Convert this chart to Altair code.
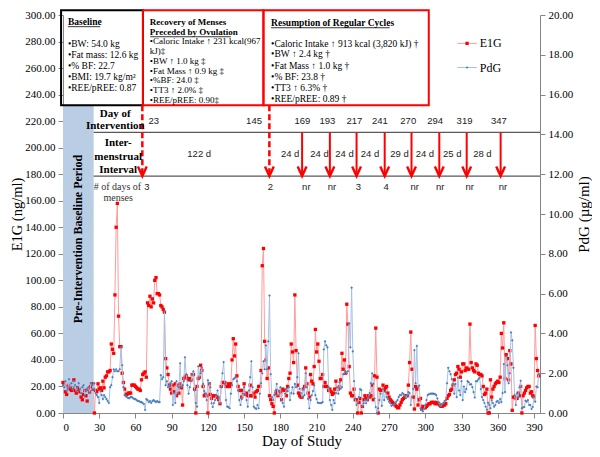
import altair as alt
import pandas as pd

# ---------------- data ----------------
days = list(range(395))

e1g = [
    23, 22, 16, 14, 20, 21, 18, 17, 19, 25,
    17, 15, 19, 18, 16, 12, 10, 14, 17, 13,
    9, 18, 16, 20, 22, 18, 0, 17, 16, 22,
    18, 19, 17, 24, 19, 27, 28, 31, 31, 32,
    52, 48, 45, 89, 140, 158, 73, 50, 50, 30,
    23, 18, 14, 14, 15, 15, 15, 21, 21, 21,
    20, 19, 18, 18, 17, 25, 29, 30, 31, 27,
    83, 81, 88, 80, 86, 83, 100, 102, 90, 90,
    89, 81, 80, 78, 76, 41, 34, 29, 21, 18,
    15, 21, 16, 22, 13, 21, 15, 22, 19, 6,
    26, 27, 28, 26, 25, 26, 25, 29, 29, 18,
    0, 20, 26, 27, 36, 32, 20, 13, 14, 13,
    0, 22, 14, 11, 13, 13, 13, 12, 12, 10,
    7, 20, 23, 23, 23, 20, 20, 22, 20, 22,
    40, 56, 43, 52, 28, 20, 17, 17, 12, 17,
    22, 14, 15, 13, 13, 21, 13, 13, 15, 12,
    16, 17, 20, 20, 32, 111, 124, 54, 40, 26,
    34, 13, 10, 7, 5, 0, 15, 17, 13, 16,
    16, 10, 18, 17, 17, 13, 20, 26, 30, 52,
    46, 38, 89, 47, 21, 15, 13, 12, 12, 18,
    20, 34, 22, 15, 12, 29, 24, 22, 35, 63,
    46, 52, 39, 26, 26, 29, 20, 23, 20, 20,
    17, 18, 16, 14, 15, 18, 24, 18, 18, 20,
    25, 45, 33, 40, 30, 82, 67, 35, 15, 13,
    13, 18, 10, 10, 0, 8, 11, 0, 5, 10,
    13, 11, 10, 13, 12, 13, 21, 10, 28, 64,
    27, 0, 18, 17, 17, 21, 17, 19, 20, 15,
    12, 10, 9, 8, 7, 6, 5, 4, 4, 6,
    8, 10, 11, 12, 13, 13, 21, 38, 61, 33,
    12, 3, 20, 18, 6, 10, 11, 3, 5, 4,
    4, 5, 6, 7, 7, 8, 8, 8, 7, 8,
    7, 7, 6, 5, 5, 6, 6, 7, 11, 13,
    14, 17, 18, 21, 25, 29, 30, 35, 33, 27,
    31, 37, 37, 32, 34, 33, 33, 67, 38, 34,
    32, 31, 37, 36, 30, 29, 29, 28, 20, 14,
    15, 18, 0, 0, 25, 12, 18, 20, 22, 23,
    24, 23, 27, 60, 49, 68, 26, 44, 41, 25,
    47, 37, 2, 12, 12, 11, 11, 15, 13, 20,
    0, 13, 15, 17, 19, 20, 20, 15, 16, 13,
    12, 66, 41, 32, 28,
]

pdg = [
    1.4, 1.3, 1.6, 1.1, 1.2, 1.7, 1.3, 1.5, 1.2, 1.6,
    1.4, 1.1, 1.3, 1.5, 1.2, 1.0, 1.3, 1.4, 0.9, 1.1,
    1.2, 1.3, 1.0, 1.5, 1.4, 1.2, 1.5, 1.0, 0.9, 0.8,
    0.5, 1.1, 0.9, 0.7, 0.9, 0.8, 0.7, 0.6, 0.5, 1.3,
    1.4, 1.8, 2.2, 2.1, 2.2, 2.1, 2.1, 2.2, 3.3, 2.4,
    1.3, 0.9, 0.85, 0.8, 0.75, 0.75, 0.8, 0.8, 0.75, 0.7,
    0.7, 0.65, 0.6, 0.6, 0.55, 0.55, 0.5, 0.45, 0.15, 0.7,
    0.65, 0.55, 0.6, 0.5, 0.6, 0.65, 0.6, 0.55, 0.6, 0.55,
    0.55, 1.9, 1.7, 1.8, 5.1, 1.4, 1.6, 1.3, 1.4, 1.5,
    1.6, 0.4, 1.0, 0.5, 1.6, 1.0, 1.3, 2.5, 1.3, 1.4,
    1.6, 2.8, 1.95, 1.4, 0.97, 1.3, 1.6, 1.95, 2.1, 1.13,
    0.5, 0.32, 2.35, 1.78, 2.0, 2.27, 1.46, 1.1, 0.97, 0.65,
    1.65, 1.5, 1.3, 0.49, 0.3, 0.5, 0.65, 0.9, 1.13, 0.8,
    0.49, 1.3, 2.0, 2.56, 1.46, 0.65, 0.32, 0.3, 0.24, 0.97,
    1.4, 1.7, 1.75, 1.8, 1.6, 1.13, 0.65, 0.4, 0.7, 0.97,
    1.3, 0.9, 0.65, 0.32, 1.13, 1.8, 2.6, 1.3, 0.32, 0.25,
    0.2, 0.4, 0.24, 0.97, 1.5, 2.0, 2.6, 2.2, 3.4, 2.2,
    3.6, 5.9, 1.95, 0.8, 0.65, 0.9, 1.13, 1.46, 0.89, 1.1,
    1.3, 0.65, 0.5, 0.32, 0.97, 1.22, 1.1, 1.3, 0.65, 1.0,
    1.3, 0.97, 1.46, 1.3, 1.8, 3.0, 1.22, 1.0, 0.8, 1.2,
    0.9, 2.0, 1.3, 0.7, 0.24, 0.65, 0.89, 1.1, 1.38, 0.9,
    0.7, 0.52, 0.5, 0.5, 0.5, 0.55, 3.2, 3.6, 3.4, 3.3,
    1.3, 0.65, 0.4, 0.16, 0.65, 0.49, 1.0, 1.3, 0.97, 1.54,
    1.22, 1.3, 1.95, 2.0, 2.1, 2.0, 2.1, 4.5, 3.3, 6.3,
    3.1, 1.6, 0.73, 0.4, 0.49, 0.8, 1.2, 1.15, 0.32, 0.49,
    0.65, 0.49, 0.65, 0.8, 1.0, 1.5, 2.0, 1.46, 0.73, 0.3,
    0.0, 0.24, 0.65, 0.97, 0.36, 1.2, 0.65, 1.05, 0.8, 0.7,
    0.57, 0.49, 0.36, 0.4, 0.4, 0.49, 0.57, 0.65, 0.8, 0.9,
    0.9, 1.0, 0.95, 0.85, 0.75, 0.9, 1.05, 1.0, 0.4, 0.8,
    1.2, 3.16, 1.5, 3.37, 1.3, 1.38, 0.24, 0.16, 0.08, 0.2,
    0.4, 0.65, 0.9, 0.94, 0.97, 0.97, 0.97, 0.97, 0.95, 0.9,
    0.73, 0.55, 0.4, 0.35, 0.45, 0.5, 0.6, 0.65, 1.5, 2.27,
    2.1, 1.95, 1.7, 1.46, 0.97, 1.46, 0.8, 1.78, 1.13, 0.9,
    1.6, 0.65, 1.33, 1.05, 1.2, 1.6, 1.55, 1.43, 1.45, 1.3,
    1.05, 0.78, 1.6, 1.6, 1.7, 1.78, 1.2, 0.8, 0.65, 0.5,
    0.32, 0.16, 0.52, 0.4, 0.24, 0.65, 0.5, 0.32, 0.4, 0.57,
    0.6, 0.5, 0.7, 0.55, 1.0, 2.46, 1.05, 2.84, 2.4, 1.5,
    2.0, 4.05, 3.65, 2.27, 0.9, 0.4, 0.97, 0.8, 1.3, 1.62,
    0.24, 0.28, 0.3, 0.62, 0.57, 0.65, 0.4, 0.4, 0.2, 0.3,
    0.8, 0.57, 1.33, 1.3, 1.97,
]

intervention_days = ["23", "145", "169", "193", "217", "241", "270", "294", "319", "347"]
interval_labels = ["122 d", "24 d", "24 d", "24 d", "24 d", "29 d", "24 d", "25 d", "28 d"]
menses_labels = ["3", "2", "nr", "nr", "3", "4", "nr", "nr", "nr", "nr"]

baseline_lines = ["•BW: 54.0 kg", "•Fat mass: 12.6 kg", "•% BF: 22.7",
                  "•BMI:  19.7 kg/m²", "•REE/pREE: 0.87"]
recovery_lines = ["•Caloric Intake ↑ 231 kcal(967", "kJ)‡", "•BW ↑ 1.0 kg ‡",
                  "•Fat Mass ↑ 0.9 kg ‡", "•%BF: 24.0 ‡", "•TT3  ↑ 2.0% ‡",
                  "•REE/pREE: 0.90‡"]
resumption_lines = ["•Caloric Intake ↑ 913 kcal (3,820 kJ) †", "•BW ↑ 2.4 kg †",
                    "•Fat Mass ↑ 1.0 kg †", "•% BF: 23.8 †", "•TT3 ↑ 6.3% †",
                    "•REE/pREE: 0.89 †"]

# ---------------- layout (annotation positions, in day / E1G units) ----------------
SERIF = "Liberation Serif, Times New Roman, serif"
SANS_N = "Liberation Sans Narrow, Arial Narrow, Liberation Sans, Arial, sans-serif"
RED = "#ff0000"

W, H = 477, 398
xs = alt.Scale(domain=[0, 395], nice=False, zero=False)
ys = alt.Scale(domain=[0, 300], nice=False)
ps = alt.Scale(domain=[0, 20], nice=False)
XT, YT, PT = "Day of Study", "E1G (ng/ml)", "PdG (µg/ml)"

x_axis = alt.Axis(values=list(range(0, 391, 30)), format="d", tickSize=5,
                  labelPadding=3, titleY=32.7, titleBaseline="alphabetic",
                  titleFontSize=15)
yl_axis = alt.Axis(values=list(range(0, 301, 20)), format=".2f", tickSize=5,
                   labelPadding=3, titleX=-42, titleY=H / 2, titleAngle=270,
                   titleBaseline="alphabetic", titleAlign="center", titleFontSize=14.5)
yr_axis = alt.Axis(orient="right", values=list(range(0, 21, 2)), format=".2f",
                   tickSize=5, labelPadding=3, titleX=48, titleY=H / 2,
                   titleAngle=270, titleBaseline="alphabetic", titleAlign="center",
                   titleFontSize=15)


def ax(f):
    return alt.X(f, type="quantitative", scale=xs, axis=x_axis, title=XT)


def ay(f):
    return alt.Y(f, type="quantitative", scale=ys, axis=yl_axis, title=YT)


def ap(f):
    return alt.Y(f, type="quantitative", scale=ps, axis=yr_axis, title=PT)


df = pd.DataFrame({"day": days, "e1g": e1g, "pdg": pdg})

# data layers
red_line = alt.Chart(df).mark_line(color="#ff9c9c", strokeWidth=1).encode(
    x=ax("day"), y=ay("e1g"))
red_pts = alt.Chart(df).mark_square(color=RED, size=11, opacity=1).encode(
    x=ax("day"), y=ay("e1g"))
blue_line = alt.Chart(df).mark_line(color="#a7c2e6", strokeWidth=1).encode(
    x=ax("day"), y=ap("pdg"))
blue_pts = alt.Chart(df).mark_point(shape="diamond", filled=True, color="#4a7ebb",
                                    size=7, opacity=1).encode(
    x=ax("day"), y=ap("pdg"))

# shaded baseline period
band = alt.Chart(pd.DataFrame({"x0": [0], "x1": [25.4], "y0": [0], "y1": [231.9]})
                 ).mark_rect(color="#b9cde5").encode(
    x=ax("x0"), x2="x1", y=ay("y0"), y2="y1")

# boxes
boxes_df = pd.DataFrame({"x0": [-1.6, 66.2, 166.0], "x1": [66.2, 166.0, 302.9],
                         "y0": [231.9] * 3, "y1": [303.5] * 3,
                         "c": ["#000000", RED, RED]})
boxes = alt.Chart(boxes_df).mark_rect(filled=False, strokeWidth=2).encode(
    x=ax("x0"), x2="x1", y=ay("y0"), y2="y1", color=alt.Color("c:N", scale=None))

# table lines
tl_df = pd.DataFrame({"x0": [25.4, 25.4], "x1": [395, 395], "y": [211.5, 178.6]})
table_lines = alt.Chart(tl_df).mark_rule(color="#595959", strokeWidth=1.2).encode(
    x=ax("x0"), x2="x1", y=ay("y"))

# arrows
dashed_x = [65.7, 170.9]
solid_x = [198.0, 221.0, 243.1, 266.4, 288.6, 311.6, 334.3, 362.4]
TIP = 178.6
dashed = alt.Chart(pd.DataFrame({"x": dashed_x, "y0": [231.9] * 2, "y1": [TIP + 1] * 2})
                   ).mark_rule(color=RED, strokeWidth=2.5, strokeDash=[6, 3]).encode(
    x=ax("x"), y=ay("y0"), y2="y1")
solid = alt.Chart(pd.DataFrame({"x": solid_x, "y0": [211.5] * 8, "y1": [TIP + 1] * 8})
                  ).mark_rule(color=RED, strokeWidth=2).encode(
    x=ax("x"), y=ay("y0"), y2="y1")
HEAD = "M-1.1,-2.4L0,0L1.1,-2.4"
heads = alt.Chart(pd.DataFrame({"x": dashed_x + solid_x, "y": [TIP] * 10})
                  ).mark_point(shape=HEAD, filled=False, color=RED, size=64,
                               strokeWidth=2.4, opacity=1, strokeJoin="miter").encode(
    x=ax("x"), y=ay("y"))

# underlines
ul_df = pd.DataFrame({"x0": [4.1, 72.2, 172.3], "x1": [30.8, 139.0, 270.5],
                      "y": [291.2, 283.6, 290.4]})
underlines = alt.Chart(ul_df).mark_rule(color="black", strokeWidth=0.8).encode(
    x=ax("x0"), x2="x1", y=ay("y"))

# box titles
bt_df = pd.DataFrame({
    "t": ["Baseline", "Recovery of Menses", "Preceded by Ovulation",
          "Resumption of Regular Cycles"],
    "x": [4.1, 71.9, 71.9, 172.3], "y": [294.6, 294.6, 287.0, 293.9],
    "fs": [9.5, 9, 9, 9.5]})
box_titles = alt.Chart(bt_df).mark_text(align="left", baseline="middle", font=SERIF,
                                         fontWeight="bold", color="black").encode(
    x=ax("x"), y=ay("y"), text="t:N", size=alt.Size("fs:Q", scale=None, legend=None))

# box bullet text
bl_y = [278.4, 269.9, 261.4, 253.1, 244.6]
rc_y = [280.3, 273.2, 265.4, 258.0, 251.0, 243.6, 235.9]
rs_y = [278.4, 270.4, 261.8, 253.6, 245.2, 236.6]
bb_df = pd.DataFrame({
    "t": baseline_lines + recovery_lines + resumption_lines,
    "x": [4.1] * 5 + [71.9] * 7 + [172.3] * 6,
    "y": bl_y + rc_y + rs_y,
    "fs": [9.5] * 5 + [9] * 7 + [9.5] * 6})
box_text = alt.Chart(bb_df).mark_text(align="left", baseline="middle", font=SERIF,
                                       color="black").encode(
    x=ax("x"), y=ay("y"), text="t:N", size=alt.Size("fs:Q", scale=None, legend=None))

# row labels
rl_df = pd.DataFrame({
    "t": ["Day of", "Intervention", "Inter-", "menstrual", "Interval"],
    "x": [43.3, 43.3, 45.7, 45.7, 45.7],
    "y": [225.6, 216.6, 203.4, 193.2, 183.5]})
row_labels = alt.Chart(rl_df).mark_text(align="center", baseline="middle", font=SERIF,
                                         fontWeight="bold", fontSize=11,
                                         color="black").encode(
    x=ax("x"), y=ay("y"), text="t:N")

mn_df = pd.DataFrame({"t": ["# of days of", "menses"], "x": [45.1, 45.7],
                      "y": [170.4, 162.4]})
menses_hdr = alt.Chart(mn_df).mark_text(align="center", baseline="middle", font=SERIF,
                                         fontSize=10, color="#333333").encode(
    x=ax("x"), y=ay("y"), text="t:N")

# numbers in the table
num_df = pd.DataFrame({
    "t": intervention_days + interval_labels + menses_labels,
    "x": [75.2, 158.2, 198.2, 218.9, 241.3, 262.4, 285.9, 308.2, 332.5, 361.0]
         + [112.8, 188.1, 212.4, 233.1, 254.2, 278.6, 299.7, 322.4, 347.3]
         + [69.5, 171.7, 201.5, 222.8, 244.7, 267.5, 291.3, 312.4, 336.8, 364.4],
    "y": [220.2] * 10 + [195.2] * 9 + [170.4] * 10})
numbers = alt.Chart(num_df).mark_text(align="center", baseline="middle", font=SANS_N,
                                       fontSize=9.5, color="#222222").encode(
    x=ax("x"), y=ay("y"), text="t:N")

# vertical period label
pre_txt = alt.Chart(pd.DataFrame({"t": ["Pre-Intervention Baseline Period"],
                                  "x": [12.4], "y": [131.1]})
                    ).mark_text(angle=270, align="center", baseline="middle", font=SERIF,
                                fontWeight="bold", fontSize=12, color="black").encode(
    x=ax("x"), y=ay("y"), text="t:N")

# legend
lg_lines = alt.Chart(pd.DataFrame({"x0": [326.5, 326.5], "x1": [342.7, 342.7],
                                   "y": [278.6, 260.4], "c": ["#ff9c9c", "#a7c2e6"]})
                     ).mark_rule(strokeWidth=1).encode(
    x=ax("x0"), x2="x1", y=ay("y"), color=alt.Color("c:N", scale=None))
lg_red = alt.Chart(pd.DataFrame({"x": [334.6], "y": [278.6]})).mark_square(
    color=RED, size=11, opacity=1).encode(x=ax("x"), y=ay("y"))
lg_blue = alt.Chart(pd.DataFrame({"x": [334.6], "y": [260.4]})).mark_point(
    shape="diamond", filled=True, color="#4a7ebb", size=7, opacity=1).encode(
    x=ax("x"), y=ay("y"))
lg_text = alt.Chart(pd.DataFrame({"t": ["E1G", "PdG"], "x": [345.1, 345.1],
                                  "y": [278.6, 260.4]})
                    ).mark_text(align="left", baseline="middle", font=SERIF,
                                fontSize=12, color="black").encode(
    x=ax("x"), y=ay("y"), text="t:N")

left = alt.layer(red_line, band, boxes, table_lines, red_pts, dashed, solid, heads,
                 underlines, box_titles, box_text, row_labels, menses_hdr, numbers,
                 pre_txt, lg_lines, lg_red, lg_blue, lg_text)
right = alt.layer(blue_line, blue_pts)

chart = alt.layer(left, right).resolve_scale(y="independent").properties(
    width=W, height=H,
    autosize=alt.AutoSizeParams(type="none"),
    padding={"left": 55, "top": 7, "right": 52, "bottom": 36},
    background="white",
).configure_view(stroke=None).configure_axis(
    grid=False, domainColor="#868686", tickColor="#868686", domainWidth=1,
    tickWidth=1, labelFont=SERIF, labelFontSize=11, labelColor="black",
    titleFont=SERIF, titleFontWeight="normal", titleColor="black")

chart.save("out.html", embed_options={"renderer": "svg", "actions": False})
